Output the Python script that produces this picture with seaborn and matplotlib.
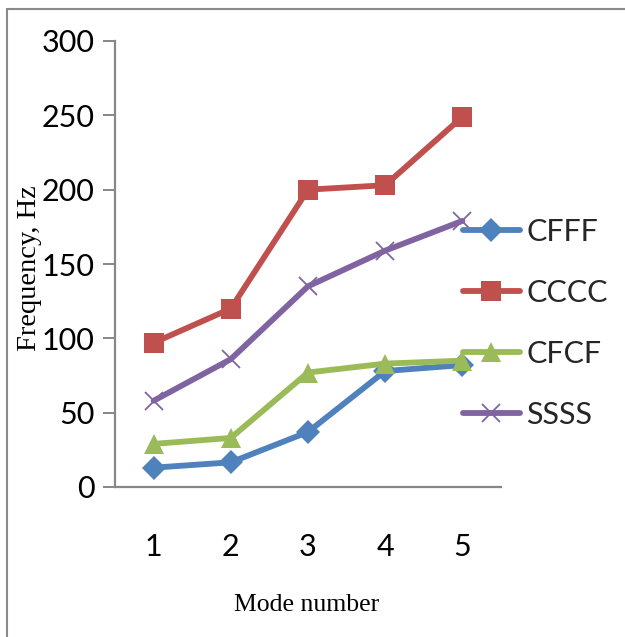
import numpy as np
import pandas as pd
import matplotlib
matplotlib.use("Agg")
import matplotlib.pyplot as plt
import seaborn as sns
from matplotlib.lines import Line2D

modes = [1, 2, 3, 4, 5]
cfff = [13, 16.6, 37, 78, 82]
cccc = [97, 120, 200, 203, 249]
cfcf = [29, 33, 77, 83, 85]
ssss = [58, 86, 135, 159, 179]
series_names = ["CFFF", "CCCC", "CFCF", "SSSS"]
y_ticks = [0, 50, 100, 150, 200, 250, 300]

df = pd.DataFrame({
    "Mode": modes * 4,
    "Frequency": cfff + cccc + cfcf + ssss,
    "Series": sum([[n] * len(modes) for n in series_names], []),
})

sns.set_theme(style="white")
plt.rcParams["font.family"] = ["Lato", "DejaVu Sans"]

W, H = 625, 637
fig = plt.figure(figsize=(W / 100, H / 100), dpi=100)
ax = fig.add_axes([115 / W, 1 - 487 / H, (501 - 115) / W, (487 - 41) / H])

styles = {
    "CFFF": dict(color="#4F81BD", marker="D", ms=12, mew=0),
    "CCCC": dict(color="#C0504D", marker="s", ms=14.5, mew=0),
    "CFCF": dict(color="#9BBB59", marker="^", ms=14.5, mew=0),
    "SSSS": dict(color="#8064A2", marker="x", ms=13.5, mew=1.3),
}
LW = 4.2

for name in series_names:
    st = styles[name]
    sub = df[df["Series"] == name]
    sns.lineplot(data=sub, x="Mode", y="Frequency", ax=ax, color=st["color"],
                 marker=st["marker"], markersize=st["ms"], markeredgewidth=st["mew"],
                 markeredgecolor=st["color"], markerfacecolor=st["color"],
                 linewidth=LW, label=name, solid_capstyle="round",
                 solid_joinstyle="round", legend=False)

ax.set_xlim(0.5, 5.5)
ax.set_ylim(0, 300)
ax.set_yticks(y_ticks)
ax.set_xticks(modes)
ax.set_xlabel("")
ax.set_ylabel("")

for s in ["top", "right"]:
    ax.spines[s].set_visible(False)
for s in ["left", "bottom"]:
    ax.spines[s].set_color("#878787")
    ax.spines[s].set_linewidth(1.6)

ax.tick_params(axis="y", which="both", direction="out", length=8.6, width=1.4,
               color="#878787", pad=6.0, labelsize=22, left=True)
ax.tick_params(axis="x", which="both", length=0, pad=33, labelsize=22, bottom=False)
for lab in ax.get_xticklabels() + ax.get_yticklabels():
    lab.set_color("black")

handles = []
for name in series_names:
    st = styles[name]
    handles.append(Line2D([], [], color=st["color"], marker=st["marker"],
                          markersize=st["ms"], markeredgewidth=st["mew"],
                          markeredgecolor=st["color"], markerfacecolor=st["color"],
                          linewidth=LW, solid_capstyle="round"))
fig.legend(handles, series_names, loc="center left",
           bbox_to_anchor=(463 / W, 1 - 323.5 / H), frameon=False,
           fontsize=22, handlelength=1.85, handletextpad=0.22,
           labelspacing=1.08, borderpad=0, borderaxespad=0)

fig.text(30 / W, 1 - 268 / H, "Frequency, Hz", rotation=90, ha="center", va="center",
         fontsize=20.5, family=["Liberation Serif", "DejaVu Serif"], color="black")
fig.text(307 / W, 1 - 605 / H, "Mode number", ha="center", va="center",
         fontsize=18.5, family=["Liberation Serif", "DejaVu Serif"], color="black")

# outer chart frame (left and top edges visible)
fig.add_artist(Line2D([7 / W, 7 / W], [-0.05, 1 - 9 / H], transform=fig.transFigure,
                      color="#8a8a8a", linewidth=1.5))
fig.add_artist(Line2D([7 / W, 1.05], [1 - 9 / H, 1 - 9 / H], transform=fig.transFigure,
                      color="#8a8a8a", linewidth=1.5))

fig.savefig("out.png", dpi=100, facecolor="white")
